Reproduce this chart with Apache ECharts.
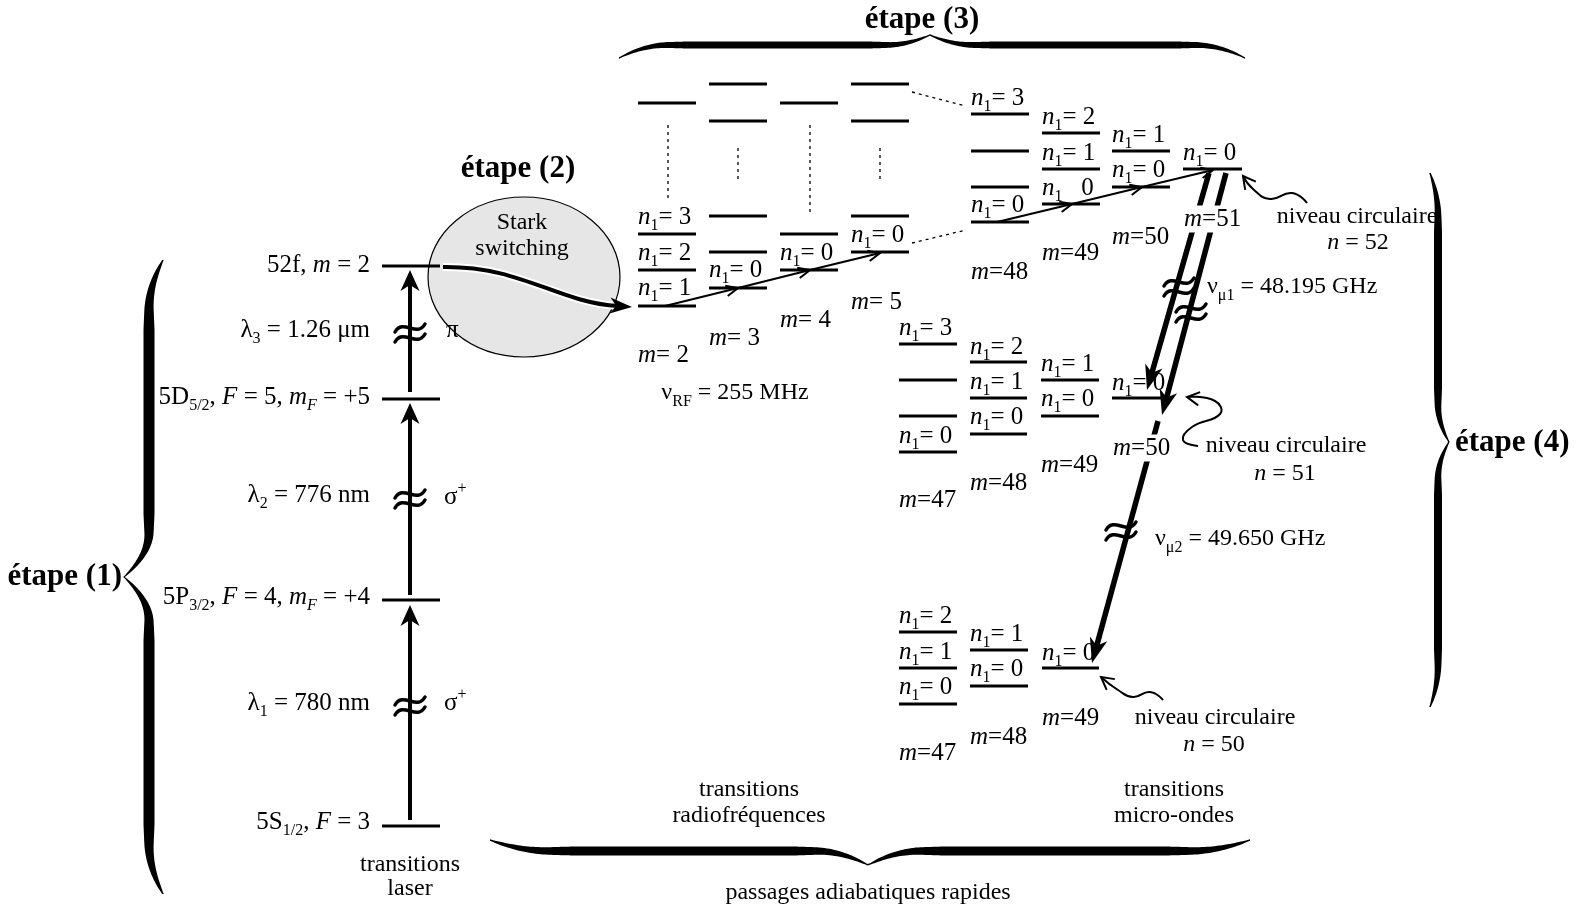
<!DOCTYPE html>
<html><head><meta charset="utf-8">
<script src="https://cdn.jsdelivr.net/npm/echarts@6/dist/echarts.min.js"></script>
<style>html,body{margin:0;padding:0;background:#fff}#c{width:1587px;height:912px}</style>
</head><body><div id="c"></div>
<script>
// ---------------- DATA (diagram coordinates) ----------------
// energy levels: [xStart, xEnd, y]
const laserLevels = [[382,440,266],[382,440,399],[382,440,600],[382,440,826]];
const rfLevels = [
  [638,696,103],[638,696,234],[638,696,270],[638,696,306],
  [709,767,84],[709,767,121],[709,767,216],[709,767,252],[709,767,288],
  [780,838,103],[780,838,234],[780,838,270],
  [851,909,84],[851,909,121],[851,909,216],[851,909,252]
];
const n52Levels = [
  [971,1029,114],[971,1029,151],[971,1029,187],[971,1029,222],
  [1042,1100,133],[1042,1100,169],[1042,1100,204],
  [1112,1170,151],[1112,1170,187],
  [1183,1242,169]
];
const n51Levels = [
  [899,957,344],[899,957,380],[899,957,416],[899,957,452],
  [970,1027,362],[970,1027,398],[970,1027,434],
  [1041,1099,380],[1041,1099,416],
  [1112,1166,398]
];
const n50Levels = [
  [899,957,632],[899,957,668],[899,957,704],
  [970,1028,650],[970,1028,686],
  [1042,1099,668]
];
// dotted guides: [x1,y1,x2,y2]
const dottedLines = [[668,125,668,202],[738,148,738,183],[810,125,810,213],[880,148,880,183],
  [912,92,966,106],[912,243,966,230]];
// laser transitions: [x1,y1,xTip,yTip]
const laserArrows = [[410,820,410,605],[410,595,410,403],[410,392,410,270]];
// radio-frequency ladders (successive points)
const rfChainA = [[665,306],[738,288],[810,270],[880,253]];
const rfChainB = [[997,222],[1072,204],[1142,187],[1213,170]];
// microwave transitions: [x1,y1,xTip,yTip]
const mwArrows = [[1209,173,1147,390],[1226,173,1162,415],[1158,421,1092,663]];
// Stark switching curve: start, control1, control2, tip
const starkPath = [[443,267],[522,266],[556,302],[632,307]];
// Stark ellipse: [cx, cy, rx, ry]
const starkRegion = [[524,277,96,80]];
// curved pointers towards circular levels
const pointer52 = [[1307,203],[1292,193],[1270,199],[1253,189],[1243,176]];
const pointer51 = [[1198,446],[1183,440],[1192,427],[1220,414],[1215,401],[1187,397]];
const pointer50 = [[1163,700],[1150,692],[1133,697],[1118,690],[1101,677]];
// "≈" break marks: [x, y]
const breakMarks = [[410,333],[410,499],[410,706],[1179,287],[1191,313],[1121,531]];
// braces: [x1,y1,x2,y2, cuspX,cuspY, bodyX,bodyY]
const braceLeft = [[163,260,163,894,124,577,149,577]];
const braceTop = [[619,58,1245,58,930,35,930,45]];
const braceBottom = [[490,840,1250,840,868,865,868,851]];
const braceRight = [[1430,173,1430,707,1449,442,1438,442]];

// texts: [x, y, text]
const laserNames = [
  [370,265,'52f, {i|m} = 2'],
  [370,330,'λ{s|3} = 1.26 μm'],
  [370,397,'5D{s|5/2}, {i|F} = 5, {i|m}{si|F} = +5'],
  [370,495,'λ{s|2} = 776 nm'],
  [370,597,'5P{s|3/2}, {i|F} = 4, {i|m}{si|F} = +4'],
  [370,703,'λ{s|1} = 780 nm'],
  [370,822,'5S{s|1/2}, {i|F} = 3']
];
const polarLabels = [[446,330,'π'],[444,497,'σ{sup|+}'],[444,703,'σ{sup|+}']];
const n1Labels = [
  [638,217,'{i|n}{s|1}= 3'],[638,253,'{i|n}{s|1}= 2'],[638,288,'{i|n}{s|1}= 1'],
  [709,270,'{i|n}{s|1}= 0'],[780,253,'{i|n}{s|1}= 0'],[851,235,'{i|n}{s|1}= 0'],
  [971,98,'{i|n}{s|1}= 3'],[971,205,'{i|n}{s|1}= 0'],
  [1042,117,'{i|n}{s|1}= 2'],[1042,153,'{i|n}{s|1}= 1'],[1042,188,'{i|n}{s|1}   0'],
  [1112,135,'{i|n}{s|1}= 1'],[1112,170,'{i|n}{s|1}= 0'],
  [1183,153,'{i|n}{s|1}= 0'],
  [899,328,'{i|n}{s|1}= 3'],[899,436,'{i|n}{s|1}= 0'],
  [970,347,'{i|n}{s|1}= 2'],[970,382,'{i|n}{s|1}= 1'],[970,417,'{i|n}{s|1}= 0'],
  [1041,364,'{i|n}{s|1}= 1'],[1041,399,'{i|n}{s|1}= 0'],
  [1112,383,'{i|n}{s|1}= 0'],
  [899,616,'{i|n}{s|1}= 2'],[899,652,'{i|n}{s|1}= 1'],[899,687,'{i|n}{s|1}= 0'],
  [970,634,'{i|n}{s|1}= 1'],[970,669,'{i|n}{s|1}= 0'],
  [1042,653,'{i|n}{s|1}= 0']
];
const mLabels = [
  [638,355,'{i|m}= 2'],[709,338,'{i|m}= 3'],[780,320,'{i|m}= 4'],[851,302,'{i|m}= 5'],
  [971,272,'{i|m}=48'],[1042,253,'{i|m}=49'],[1112,237,'{i|m}=50'],
  [899,500,'{i|m}=47'],[970,483,'{i|m}=48'],[1041,465,'{i|m}=49'],
  [899,753,'{i|m}=47'],[970,737,'{i|m}=48'],[1042,718,'{i|m}=49']
];
const mLabelsOverArrows = [[1183,219,'{i|m}=51'],[1112,448,'{i|m}=50']];
const leftNotes = [
  [1207,287,'ν{s|μ1} = 48.195 GHz'],[1155,539,'ν{s|μ2} = 49.650 GHz']
];
const centerNotes = [
  [522,223,'Stark'],[522,249,'switching'],
  [735,393,'ν{s|RF} = 255 MHz'],
  [1357,217,'niveau circulaire'],[1358,243,'{i|n} = 52'],
  [1286,446,'niveau circulaire'],[1285,474,'{i|n} = 51'],
  [1215,718,'niveau circulaire'],[1214,745,'{i|n} = 50'],
  [410,865,'transitions'],[410,889,'laser'],
  [749,790,'transitions'],[749,816,'radiofréquences'],
  [1174,790,'transitions'],[1174,816,'micro-ondes'],
  [868,893,'passages adiabatiques rapides']
];
const stepTitlesCenter = [[518,169,'étape (2)'],[922,20,'étape (3)']];
const stepTitlesRight = [[122,577,'étape (1)']];
const stepTitlesLeft = [[1455,443,'étape (4)']];

// ---------------- RENDERING ----------------
const FONT = '"Liberation Serif","Times New Roman",serif';
const BASE = 25;
const rich = {
  i:  {fontStyle:'italic', fontFamily:FONT, fontSize:BASE, fill:'#000'},
  ic: {fontStyle:'italic', fontFamily:FONT, fontSize:24, fill:'#000'},
  s:  {fontFamily:FONT, fontSize:16, padding:[17,0,0,0], fill:'#000'},
  si: {fontFamily:FONT, fontSize:16, fontStyle:'italic', padding:[17,0,0,0], fill:'#000'},
  sup:{fontFamily:FONT, fontSize:16, padding:[0,0,16,0], fill:'#000'}
};
function unit(a,b){const dx=b[0]-a[0],dy=b[1]-a[1],l=Math.hypot(dx,dy)||1;return [dx/l,dy/l];}
function filledHead(tip,u,len,hw){
  const bx=tip[0]-u[0]*len, by=tip[1]-u[1]*len, nx=-u[1], ny=u[0];
  return {type:'polygon', shape:{points:[tip,[bx+nx*hw,by+ny*hw],[tip[0]-u[0]*len*0.72,tip[1]-u[1]*len*0.72],[bx-nx*hw,by-ny*hw]]}, style:{fill:'#000'}};
}
function openHead(tip,u,len,ang,lw){
  const c=Math.cos(ang), s=Math.sin(ang), bx=-u[0], by=-u[1];
  const p1=[tip[0]+len*(bx*c-by*s), tip[1]+len*(bx*s+by*c)];
  const p2=[tip[0]+len*(bx*c+by*s), tip[1]+len*(-bx*s+by*c)];
  return {type:'polyline', shape:{points:[p1,tip,p2]}, style:{stroke:'#000', lineWidth:lw, fill:null, lineJoin:'miter'}};
}
function custom(name, data, z, draw){
  return {type:'custom', name, coordinateSystem:'cartesian2d', silent:true, z, clip:false,
    data: data.map(d=>[d[0], d[1]]),
    renderItem:(params, api)=>draw(data[params.dataIndex], api)};
}
function levelSeries(name, data){
  return custom(name, data, 4, (d, api)=>{
    const a=api.coord([d[0],d[2]]), b=api.coord([d[1],d[2]]);
    return {type:'line', shape:{x1:a[0],y1:a[1],x2:b[0],y2:b[1]}, style:{stroke:'#000', lineWidth:3}};
  });
}
function textSeries(name, data, align, o){
  o=o||{};
  return custom(name, data, o.z||6, (d, api)=>{
    const p=api.coord([d[0],d[1]]);
    let txt=d[2];
    if(o.size===24) txt=txt.replace(/\{i\|/g,'{ic|');
    const st={text:txt, align, verticalAlign:'middle', fill:'#000', fontFamily:FONT,
      fontSize:o.size||BASE, fontWeight:o.weight||'normal', rich};
    if(o.bg){st.backgroundColor=o.bg; st.padding=[1,1];}
    return {type:'text', x:p[0], y:p[1], style:st};
  });
}
function braceSeries(name, data, wmax){
  return custom(name, data, 3, (d, api)=>{
    const A=api.coord([d[0],d[1]]), B=api.coord([d[2],d[3]]), C=api.coord([d[4],d[5]]), Bd=api.coord([d[6],d[7]]);
    const dx=B[0]-A[0], dy=B[1]-A[1], L=Math.hypot(dx,dy), ux=dx/L, uy=dy/L;
    let nx=-uy, ny=ux;
    let dc=(C[0]-A[0])*nx+(C[1]-A[1])*ny;
    if(dc<0){nx=-nx;ny=-ny;dc=-dc;}
    const h=Math.abs((Bd[0]-A[0])*nx+(Bd[1]-A[1])*ny);
    const tc=(C[0]-A[0])*ux+(C[1]-A[1])*uy;
    const N=300, side1=[], side2=[];
    for(let i=0;i<=N;i++){
      const s=i/N*L;
      let de, dcu, half;
      if(s<=tc){de=s; dcu=tc-s; half=tc;} else {de=L-s; dcu=s-tc; half=L-tc;}
      const a=half*0.16, b=half*0.14;
      const e=Math.min(de/a,1), c=Math.max(0,1-dcu/b);
      const off=h*(1-(1-e)*(1-e))+(dc-h)*c*c;
      const w=Math.max(1.6, wmax*Math.pow(Math.min(de/(half*0.22),1),0.5)*Math.pow(Math.min(dcu/(half*0.2),1),0.5));
      const px=A[0]+ux*s+nx*off, py=A[1]+uy*s+ny*off;
      side1.push([px+nx*w/2, py+ny*w/2]); side2.push([px-nx*w/2, py-ny*w/2]);
    }
    return {type:'polygon', shape:{points:side1.concat(side2.reverse())}, style:{fill:'#000'}};
  });
}
function chainSeries(name, pts){
  const segs=[]; for(let i=0;i<pts.length-1;i++) segs.push([pts[i][0],pts[i][1],pts[i+1][0],pts[i+1][1]]);
  return custom(name, segs, 7, (d, api)=>{
    const a=api.coord([d[0],d[1]]), b=api.coord([d[2],d[3]]), u=unit(a,b);
    return {type:'group', children:[
      {type:'line', shape:{x1:a[0],y1:a[1],x2:b[0],y2:b[1]}, style:{stroke:'#000', lineWidth:2}},
      openHead(b,u,13,0.42,2)
    ]};
  });
}
function pointerSeries(name, pts){
  return custom(name, [pts[0]], 7, (d, api)=>{
    const P=pts.map(p=>api.coord(p));
    const u=unit(P[P.length-2], P[P.length-1]);
    return {type:'group', children:[
      {type:'polyline', shape:{points:P, smooth:0.5}, style:{stroke:'#000', lineWidth:2, fill:null}},
      openHead(P[P.length-1],u,14,0.5,2)
    ]};
  });
}

const series = [
  braceSeries('brace1', braceLeft, 11),
  braceSeries('brace3', braceTop, 7),
  braceSeries('braceB', braceBottom, 9),
  braceSeries('brace4', braceRight, 8),
  custom('stark region', starkRegion, 2, (d, api)=>{
    const c=api.coord([d[0],d[1]]), s=api.size([d[2],d[3]]);
    return {type:'ellipse', shape:{cx:c[0],cy:c[1],rx:s[0],ry:s[1]}, style:{fill:'#e6e6e6', stroke:'#000', lineWidth:1.2}};
  }),
  levelSeries('laser levels', laserLevels),
  levelSeries('rf levels', rfLevels),
  levelSeries('n=52 levels', n52Levels),
  levelSeries('n=51 levels', n51Levels),
  levelSeries('n=50 levels', n50Levels),
  custom('dotted', dottedLines, 4, (d, api)=>{
    const a=api.coord([d[0],d[1]]), b=api.coord([d[2],d[3]]);
    return {type:'line', shape:{x1:a[0],y1:a[1],x2:b[0],y2:b[1]}, style:{stroke:'#000', lineWidth:1.3, lineDash:[3,4]}};
  }),
  custom('laser arrows', laserArrows, 7, (d, api)=>{
    const a=api.coord([d[0],d[1]]), t=api.coord([d[2],d[3]]), u=unit(a,t);
    return {type:'group', children:[
      {type:'line', shape:{x1:a[0],y1:a[1],x2:t[0]-u[0]*12,y2:t[1]-u[1]*12}, style:{stroke:'#000', lineWidth:4}},
      filledHead(t,u,21,9.5)
    ]};
  }),
  chainSeries('rf chain A', rfChainA),
  chainSeries('rf chain B', rfChainB),
  custom('stark curve', [starkPath[0]], 7, (d, api)=>{
    const P=starkPath.map(p=>api.coord(p));
    const u=unit(P[2],P[3]);
    const end=[P[3][0]-u[0]*14, P[3][1]-u[1]*14];
    return {type:'group', children:[
      {type:'bezierCurve', shape:{x1:P[0][0],y1:P[0][1],cpx1:P[1][0],cpy1:P[1][1],cpx2:P[2][0],cpy2:P[2][1],x2:end[0],y2:end[1]}, style:{stroke:'#fff', lineWidth:8, fill:null}},
      {type:'bezierCurve', shape:{x1:P[0][0],y1:P[0][1],cpx1:P[1][0],cpy1:P[1][1],cpx2:P[2][0],cpy2:P[2][1],x2:end[0],y2:end[1]}, style:{stroke:'#000', lineWidth:4, fill:null}},
      filledHead(P[3],u,22,8)
    ]};
  }),
  pointerSeries('pointer 52', pointer52),
  pointerSeries('pointer 51', pointer51),
  pointerSeries('pointer 50', pointer50),
  textSeries('laser names', laserNames, 'right'),
  textSeries('polar', polarLabels, 'left'),
  textSeries('n1', n1Labels, 'left'),
  textSeries('m', mLabels, 'left'),
  textSeries('notes left', leftNotes, 'left', {size:24}),
  textSeries('notes center', centerNotes, 'center', {size:24}),
  textSeries('titles c', stepTitlesCenter, 'center', {size:31, weight:'bold'}),
  textSeries('titles r', stepTitlesRight, 'right', {size:31, weight:'bold'}),
  textSeries('titles l', stepTitlesLeft, 'left', {size:31, weight:'bold'}),
  custom('mw arrows', mwArrows, 8, (d, api)=>{
    const a=api.coord([d[0],d[1]]), t=api.coord([d[2],d[3]]), u=unit(a,t);
    return {type:'group', children:[
      {type:'line', shape:{x1:a[0],y1:a[1],x2:t[0]-u[0]*14,y2:t[1]-u[1]*14}, style:{stroke:'#000', lineWidth:5.5}},
      filledHead(t,u,25,9)
    ]};
  }),
  textSeries('m over arrows', mLabelsOverArrows, 'left', {bg:'#fff', z:9}),
  custom('break marks', breakMarks, 10, (d, api)=>{
    const c=api.coord([d[0],d[1]]);
    const mk=(y0)=>({type:'bezierCurve', shape:{x1:c[0]-15,y1:y0+4,cpx1:c[0]-7,cpy1:y0-10,cpx2:c[0]+7,cpy2:y0+10,x2:c[0]+15,y2:y0-4}, style:{stroke:'#000', lineWidth:3.5, fill:null, lineCap:'round'}});
    return {type:'group', children:[mk(c[1]-5), mk(c[1]+5)]};
  })
];

const chart = echarts.init(document.getElementById('c'), null, {renderer:'canvas'});
chart.setOption({
  animation:false,
  backgroundColor:'#fff',
  grid:{left:0,right:0,top:0,bottom:0},
  xAxis:{type:'value', min:0, max:1587, show:false},
  yAxis:{type:'value', min:0, max:912, inverse:true, show:false},
  series
});
</script></body></html>
